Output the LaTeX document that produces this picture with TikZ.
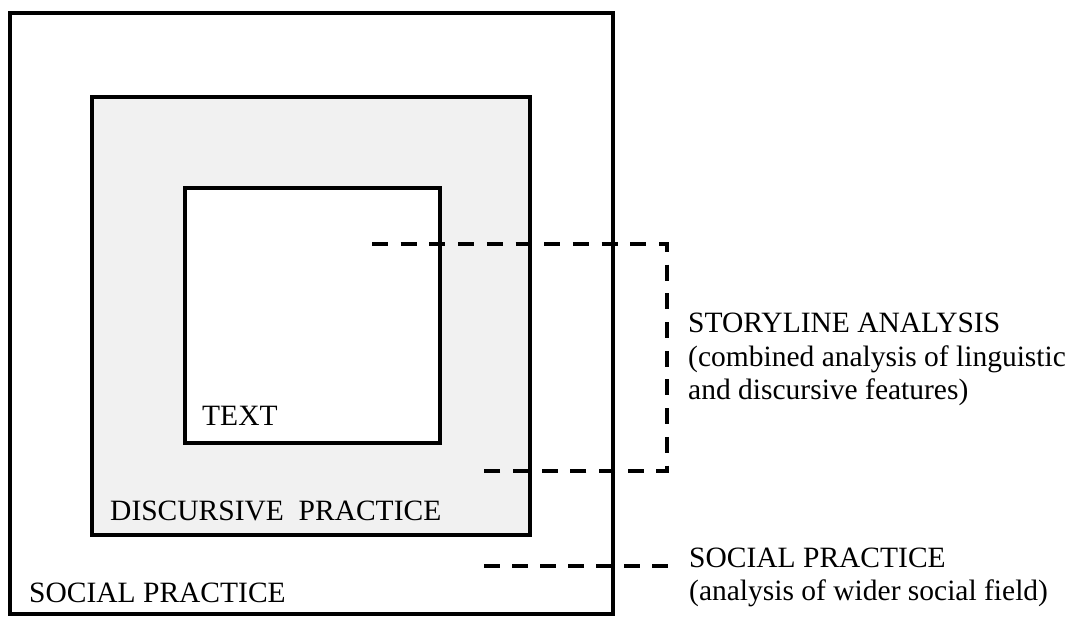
\documentclass[tikz,border=0pt]{standalone}
\usepackage{fontspec}
\setmainfont{Liberation Serif}
\definecolor{boxgray}{HTML}{F1F1F1}
\tikzset{
  frame/.style={draw=black, line width=3.4pt},
  lbl/.style={inner sep=0pt, anchor=base west, font=\fontsize{29.5}{33}\selectfont},
  dashline/.style={draw=black, line width=3.6pt, dash pattern=on 16pt off 12.7pt},
}
\begin{document}
\begin{tikzpicture}[x=1pt,y=-1pt]
\useasboundingbox (0,0) rectangle (1066,617);
% boxes
\draw[frame, fill=white] (10,13) rectangle (613,614);
\draw[frame, fill=boxgray] (92,97) rectangle (530,535);
\draw[frame, fill=white] (185,188) rectangle (440,443);
% box labels
\node[lbl] (text) at (202,426) {TEXT};
\node[lbl] (disc) at (110,520) {DISCURSIVE\hspace{0.5em}PRACTICE};
\node[lbl] (soc) at (29,602) {SOCIAL PRACTICE};
% dashed connectors
\coordinate (sa1) at (372,244);
\coordinate (sa2) at (667,244);
\coordinate (sa3) at (667,471);
\coordinate (sa4) at (484,471);
\coordinate (sp1) at (484,566);
\coordinate (sp2) at (668,566);
\draw[dashline] (sa1) -- (sa2) -- (sa3) -- (sa4);
\draw[dashline, dash pattern=on 16pt off 12pt] (sp1) -- (sp2);
% right labels
\node[lbl] (sa) at (688,333) {STORYLINE ANALYSIS};
\node[lbl] (sab) at (688,367) {(combined analysis of linguistic};
\node[lbl] (sac) at (688,400) {and discursive features)};
\node[lbl] (sp) at (689,567) {SOCIAL PRACTICE};
\node[lbl] (spb) at (689,600) {(analysis of wider social field)};
\end{tikzpicture}
\end{document}
